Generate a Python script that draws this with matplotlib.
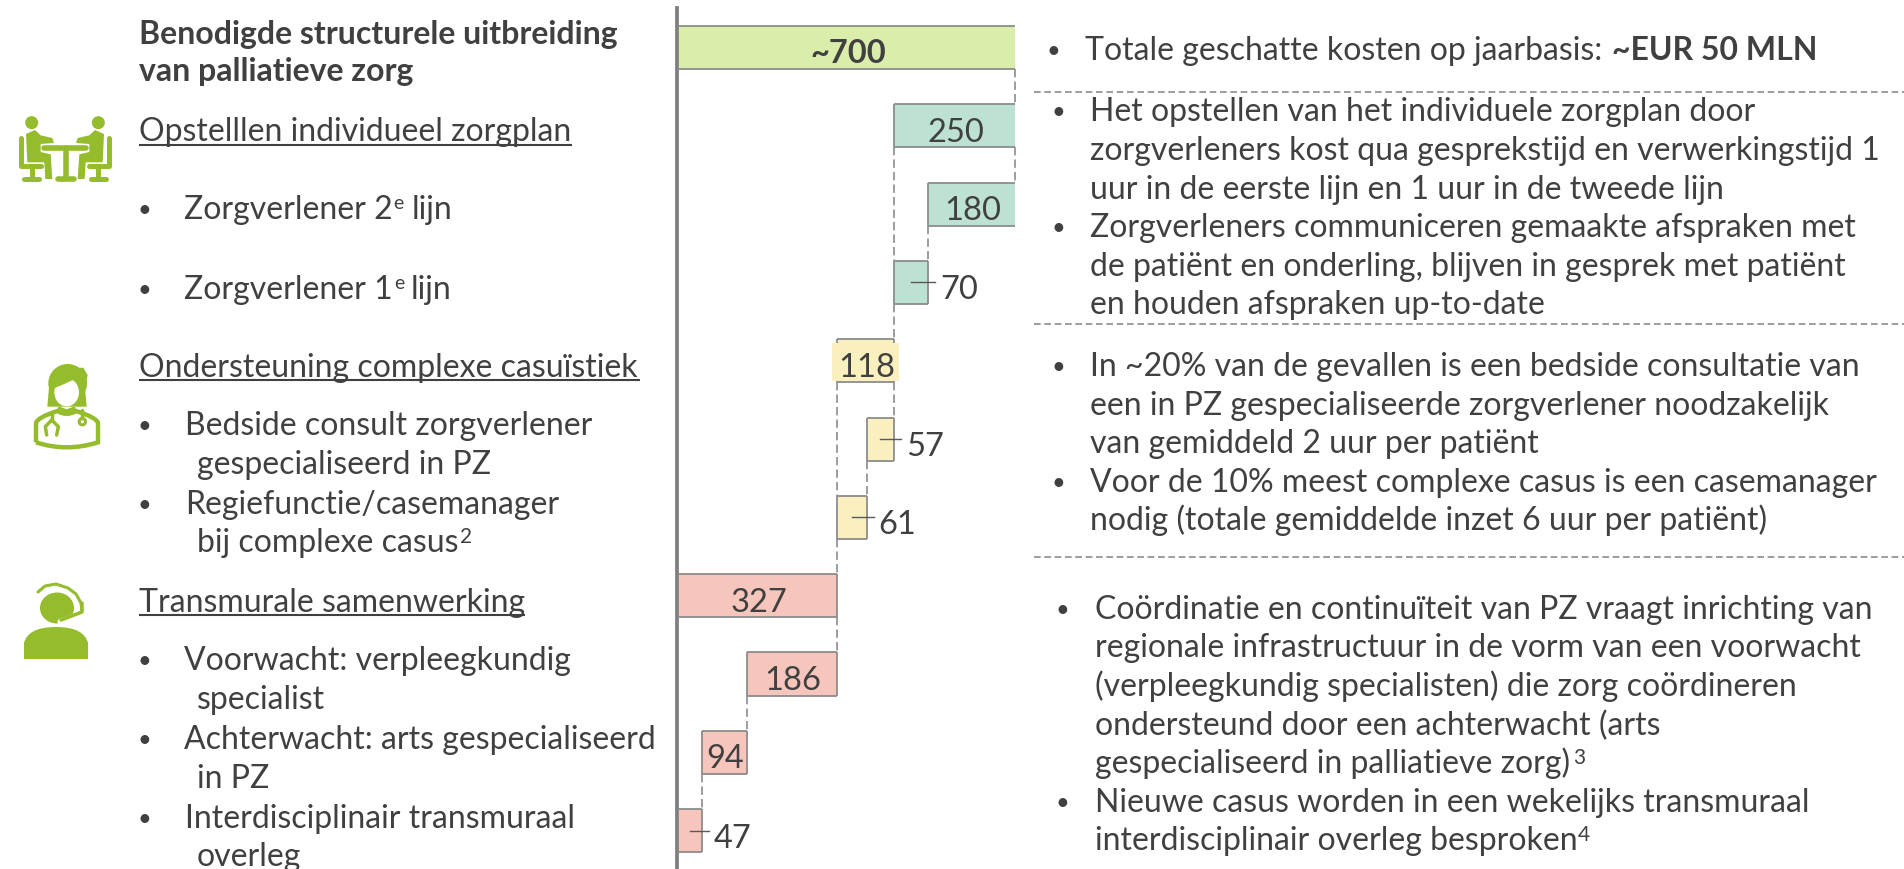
import matplotlib
matplotlib.use('Agg')
import matplotlib.pyplot as plt
from matplotlib.patches import Circle, Ellipse, PathPatch, Polygon
from matplotlib.path import Path

plt.rcParams['font.family'] = ['Lato', 'Open Sans', 'DejaVu Sans']

# waterfall data
labels = ['~700', '250', '180', '70', '118', '57', '61', '327', '186', '94', '47']
values = [695, 250, 180, 70, 118, 57, 61, 327, 186, 94, 47]
lefts = [0, 445, 515, 445, 327, 388, 327, 0, 141, 47, 0]
colors = ['#DAEDAB', '#BDE1D2', '#BDE1D2', '#BDE1D2', '#F9EFBF', '#F9EFBF', '#F9EFBF',
          '#F6C6BC', '#F6C6BC', '#F6C6BC', '#F6C6BC']
outside = ['70', '57', '61', '47']
# connector: waarde, van rij, naar rij
connectors = [(695, 0, 1), (695, 1, 2), (445, 1, 3), (515, 2, 3), (445, 3, 4), (445, 4, 5),
              (327, 4, 6), (388, 5, 6), (327, 6, 7), (327, 7, 8), (141, 8, 9), (47, 9, 10)]

title_lines = ['Benodigde structurele uitbreiding', 'van palliatieve zorg']
headings = ['Opstelllen individueel zorgplan', 'Ondersteuning complexe casuïstiek', 'Transmurale samenwerking']
heading_pos = [(139, 141, 145, 572), (139, 377, 380, 640), (139, 612, 615, 525)]

left_text = [
    (184, 219, 209, 'Zorgverlener 2'),
    (184, 299, 288, 'Zorgverlener 1'),
    (185, 435, 425, 'Bedside consult zorgverlener'),
    (197, 474, None, 'gespecialiseerd in PZ'),
    (185, 514, 503, 'Regiefunctie/casemanager'),
    (197, 552, None, 'bij complexe casus'),
    (184, 670, 660, 'Voorwacht: verpleegkundig'),
    (197, 709, None, 'specialist'),
    (184, 749, 739, 'Achterwacht: arts gespecialiseerd'),
    (197, 788, None, 'in PZ'),
    (185, 828, 818, 'Interdisciplinair transmuraal'),
    (197, 866, None, 'overleg'),
]

right_text = [
    (1085, 60, 1053, 'Totale geschatte kosten op jaarbasis:'),
    (1090, 121, 1058, 'Het opstellen van het individuele zorgplan door'),
    (1090, 160, None, 'zorgverleners kost qua gesprekstijd en verwerkingstijd 1'),
    (1090, 199, None, 'uur in de eerste lijn en 1 uur in de tweede lijn'),
    (1090, 237, 1058, 'Zorgverleners communiceren gemaakte afspraken met'),
    (1090, 276, None, 'de patiënt en onderling, blijven in gesprek met patiënt'),
    (1090, 314, None, 'en houden afspraken up-to-date'),
    (1090, 376, 1058, 'In ~20% van de gevallen is een bedside consultatie van'),
    (1090, 415, None, 'een in PZ gespecialiseerde zorgverlener noodzakelijk'),
    (1090, 453, None, 'van gemiddeld 2 uur per patiënt'),
    (1090, 492, 1058, 'Voor de 10% meest complexe casus is een casemanager'),
    (1090, 530, None, 'nodig (totale gemiddelde inzet 6 uur per patiënt)'),
    (1095, 619, 1062, 'Coördinatie en continuïteit van PZ vraagt inrichting van'),
    (1095, 657, None, 'regionale infrastructuur in de vorm van een voorwacht'),
    (1095, 696, None, '(verpleegkundig specialisten) die zorg coördineren'),
    (1095, 735, None, 'ondersteund door een achterwacht (arts'),
    (1095, 773, None, 'gespecialiseerd in palliatieve zorg)'),
    (1095, 812, 1062, 'Nieuwe casus worden in een wekelijks transmuraal'),
    (1095, 850, None, 'interdisciplinair overleg besproken'),
]

dash_y = [92, 324, 557]

W, H = 1904, 869
TXT = '#404040'
GRIJS = '#8C8C8C'
GROEN = '#95BC2D'
FS = 23

fig = plt.figure(figsize=(W / 100, H / 100), dpi=100)

# overlay in pixels voor tekst en iconen
bg = fig.add_axes([0, 0, 1, 1])
bg.set_xlim(0, W)
bg.set_ylim(H, 0)
bg.axis('off')


def txt(x, y, s, size=FS, **kw):
    return bg.text(x, y, s, fontsize=size, color=TXT, va='baseline', **kw)


for i, line in enumerate(title_lines):
    txt(139, 44 + 37 * i, line, fontweight='bold')

for s, (x, y, uy, x2) in zip(headings, heading_pos):
    txt(x, y, s)
    bg.plot([x, x2], [uy, uy], color=TXT, lw=1.5, solid_capstyle='butt')

for x, y, by, s in left_text:
    txt(x, y, s)
    if by is not None:
        txt(144, y - 2, '•', size=17, ha='center')

for x, y, bx, s in right_text:
    txt(x, y, s)
    if bx is not None:
        txt(bx, y - 2, '•', size=17, ha='center')

txt(1612, 60, '~EUR 50 MLN', fontweight='bold')

# superscripts en losse stukken
txt(393, 209, 'e', size=14)
txt(412, 219, 'lijn')
txt(394, 289, 'e', size=14)
txt(411, 299, 'lijn')
txt(460, 543, '2', size=15)
txt(1573, 764, '3', size=15)
txt(1578, 841, '4', size=15)

for y in dash_y:
    bg.plot([1034, W], [y, y], color=GRIJS, lw=1.2, dashes=(4, 2.2))

# waterfall
chart = fig.add_axes([679 / W, 0, 336 / W, (H - 8) / H])
chart.patch.set_alpha(0)
chart.set_xlim(0, values[0])
chart.set_ylim(10.49, -0.504)
chart.set_xticks([])
chart.set_yticks([])
for s in ['top', 'right', 'bottom']:
    chart.spines[s].set_visible(False)
chart.spines['left'].set_position(('outward', 1.5))
chart.spines['left'].set_linewidth(2.7)
chart.spines['left'].set_color('#7F7F7F')

BAR_H = 0.55
PX = 336 / values[0]
rows = list(range(len(values)))
chart.barh(rows, values, left=lefts, height=BAR_H, color=colors, edgecolor='none')

for r, v, l in zip(rows, values, lefts):
    chart.hlines([r - BAR_H / 2, r + BAR_H / 2], l, l + v, color=GRIJS, lw=1.3, clip_on=False)
    if l > 0:
        chart.vlines(l, r - BAR_H / 2, r + BAR_H / 2, color=GRIJS, lw=1.3)
    if l + v < values[0]:
        chart.vlines(l + v, r - BAR_H / 2, r + BAR_H / 2, color=GRIJS, lw=1.3)

for v, a, b in connectors:
    chart.plot([v, v], [a + BAR_H / 2, b - BAR_H / 2], color=GRIJS, lw=1.2, dashes=(5, 2.5), clip_on=False)

for r, v, l, lab, c in zip(rows, values, lefts, labels, colors):
    if lab in outside:
        chart.plot([l + v / 2, l + v + 7 / PX], [r, r], color='#595959', lw=1, clip_on=False)
        chart.annotate(lab, (l + v, r), xytext=(12, -17), textcoords='offset pixels', fontsize=23.5,
                       color=TXT, va='baseline', annotation_clip=False)
    else:
        if lab == '118':
            # vlak achter het label is iets breder dan de balk
            chart.barh(r + 0.02, v + 10 / PX, left=l - 5 / PX, height=0.49, color=c, zorder=3, clip_on=False)
        chart.annotate(lab, (l + v / 2, r), xytext=(1, -16), textcoords='offset pixels', fontsize=23.5,
                       color=TXT, ha='center', va='baseline', annotation_clip=False, zorder=4,
                       fontweight='bold' if r == 0 else 'normal')


# iconen
def z(x0, y0):
    return lambda x, y: (x0 + x / 3, y0 + y / 3)


def stroke(f, pts, lw=3.4, color=GROEN, cap='round'):
    xs, ys = zip(*[f(*p) for p in pts])
    bg.plot(xs, ys, color=color, lw=lw, solid_capstyle=cap, solid_joinstyle='round')


# twee personen aan tafel
f = z(10, 110)
for m in [lambda x, y: (x, y), lambda x, y: (330 - x, y)]:
    g = lambda x, y, m=m: f(*m(x, y))
    bg.add_patch(Circle(g(65, 38), 6.5, color=GROEN, lw=0))
    bg.add_patch(Polygon([g(*p) for p in [(48, 72), (75, 60), (92, 76), (127, 84), (132, 99), (92, 102),
                                          (92, 126), (122, 133), (127, 207), (106, 207), (103, 157), (52, 157)]],
                         color=GROEN, lw=0))
    stroke(g, [(32, 85), (32, 168), (92, 168)], lw=3.6)
    stroke(g, [(65, 168), (65, 205)], lw=3.6)
    stroke(g, [(42, 207), (88, 207)], lw=3.6)
stroke(f, [(102, 115), (228, 115)], lw=4)
stroke(f, [(167, 115), (167, 205)], lw=4)
stroke(f, [(143, 207), (192, 207)], lw=4)

# zorgverlener
f = z(20, 355)
body = Path([f(48, 262), f(48, 205), f(50, 188), f(112, 168), f(140, 185), f(168, 168), f(232, 188), f(234, 205),
             f(234, 262), f(140, 292), f(48, 262)],
            [Path.MOVETO, Path.LINETO, Path.CURVE3, Path.CURVE3, Path.CURVE3, Path.CURVE3, Path.CURVE3,
             Path.LINETO, Path.LINETO, Path.CURVE3, Path.CURVE3])
bg.add_patch(PathPatch(body, facecolor='white', edgecolor=GROEN, lw=3.2))
bg.add_patch(Ellipse(f(143, 85), 116 / 3, 116 / 3, color=GROEN, lw=0))
bg.add_patch(Polygon([f(*p) for p in [(88, 85), (82, 155), (200, 155), (195, 100), (203, 60), (190, 38), (150, 40)]],
                     color=GROEN, lw=0))
bg.add_patch(Ellipse(f(140, 112), 74 / 3, 84 / 3, color='white', lw=0))
bg.add_patch(Polygon([f(*p) for p in [(102, 100), (108, 60), (170, 58), (178, 100), (165, 72), (135, 86)]],
                     color=GROEN, lw=0))
stroke(f, [(118, 160), (140, 168), (162, 160)], lw=2.4)
stroke(f, [(95, 172), (95, 195)], lw=2.5)
stroke(f, [(80, 240), (76, 215), (95, 195), (115, 215), (110, 240)], lw=2.5)
stroke(f, [(187, 165), (187, 190)], lw=2.5)
bg.add_patch(Circle(f(187, 200), 3.2, facecolor='white', edgecolor=GROEN, lw=2.2))

# medewerker met headset (pixels)
bg.add_patch(Ellipse((57, 608), 34, 31, color=GROEN, lw=0))
bg.plot([38, 45, 56, 68, 76, 81, 82], [592, 586, 584, 588, 594, 603, 612], color=GROEN, lw=2.2,
        solid_capstyle='round', solid_joinstyle='round')
bg.plot([82, 61], [614, 622], color='white', lw=5, solid_capstyle='round')
bg.plot([82, 82, 61], [603, 612, 620], color=GROEN, lw=2.5, solid_capstyle='round', solid_joinstyle='round')
top = Path([(24, 659), (24, 643), (28, 627), (56, 627), (84, 627), (88, 643), (88, 659), (24, 659)],
           [Path.MOVETO, Path.LINETO, Path.CURVE3, Path.CURVE3, Path.CURVE3, Path.CURVE3, Path.LINETO, Path.CLOSEPOLY])
bg.add_patch(PathPatch(top, facecolor=GROEN, edgecolor='none'))

fig.savefig('out.png', dpi=100)
